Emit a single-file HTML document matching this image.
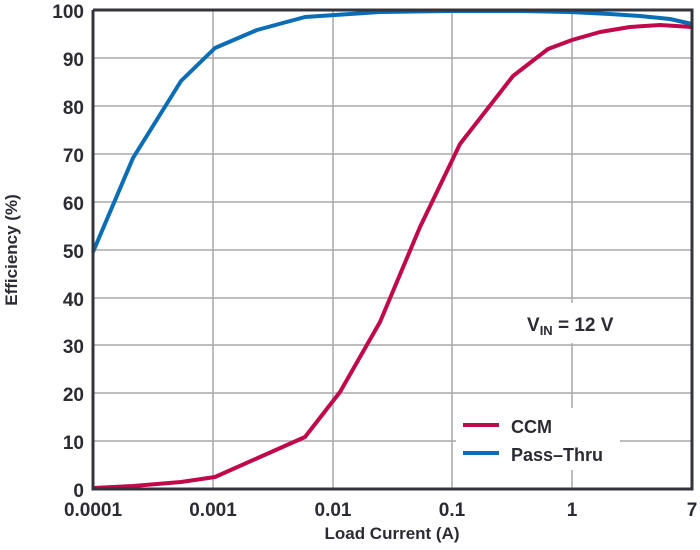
<!DOCTYPE html>
<html><head><style>body{margin:0;background:#fff}</style></head><body>
<svg width="700" height="545" xmlns="http://www.w3.org/2000/svg" font-family="Liberation Sans, sans-serif" font-weight="bold" fill="#2b2b33">
<g stroke="#a8a8ac" stroke-width="1.5">
<line x1="93" x2="692" y1="58" y2="58"/><line x1="93" x2="692" y1="106" y2="106"/><line x1="93" x2="692" y1="154" y2="154"/><line x1="93" x2="692" y1="202" y2="202"/><line x1="93" x2="692" y1="250" y2="250"/><line x1="93" x2="692" y1="298" y2="298"/><line x1="93" x2="692" y1="345" y2="345"/><line x1="93" x2="692" y1="393" y2="393"/><line x1="93" x2="692" y1="441" y2="441"/>
<line x1="213" x2="213" y1="10" y2="489"/><line x1="333" x2="333" y1="10" y2="489"/><line x1="452" x2="452" y1="10" y2="489"/><line x1="572" x2="572" y1="10" y2="489"/>
</g>
<rect x="520" y="303" width="100" height="40" fill="#fff"/>
<rect x="456" y="408" width="164" height="62" fill="#fff"/>
<polyline fill="none" stroke="#0a6db5" stroke-width="4" stroke-linejoin="round" points="93,252 133,158 181,81 215,48 257,30 305,17 380,12 450,11 520,11 570,12 610,14 640,16 670,19 692,24"/>
<polyline fill="none" stroke="#c0084a" stroke-width="4" stroke-linejoin="round" points="93,488 133,486 181,482 215,477 260,457 305,437 340,392 380,322 420,227 460,144 513,76 548,49 572,40 600,32 630,27 660,25 692,27"/>
<polyline fill="none" stroke="#34343c" stroke-width="3" points="93,10 692,10 692,489 93,489 93,10"/>
<g font-size="19" text-anchor="end">
<text x="84" y="18">100</text><text x="84" y="66">90</text><text x="84" y="114">80</text><text x="84" y="162">70</text><text x="84" y="210">60</text><text x="84" y="258">50</text><text x="84" y="306">40</text><text x="84" y="353">30</text><text x="84" y="401">20</text><text x="84" y="449">10</text><text x="84" y="497">0</text>
</g>
<g font-size="19" text-anchor="middle">
<text x="93" y="516">0.0001</text><text x="213" y="516">0.001</text><text x="333" y="516">0.01</text><text x="452" y="516">0.1</text><text x="572" y="516">1</text><text x="692" y="516">7</text>
<text x="392" y="539" font-size="17">Load Current (A)</text>
<text transform="translate(17,250) rotate(-90)" font-size="17">Efficiency (%)</text>
</g>
<text x="527" y="331" font-size="19">V<tspan font-size="13" dy="4">IN</tspan><tspan dy="-4"> = 12 V</tspan></text>
<line x1="463" x2="499" y1="425" y2="425" stroke="#c0084a" stroke-width="4"/>
<line x1="463" x2="499" y1="453" y2="453" stroke="#0a6db5" stroke-width="4"/>
<text x="511" y="433" font-size="18">CCM</text>
<text x="511" y="461" font-size="18">Pass–Thru</text>
</svg>
</body></html>
